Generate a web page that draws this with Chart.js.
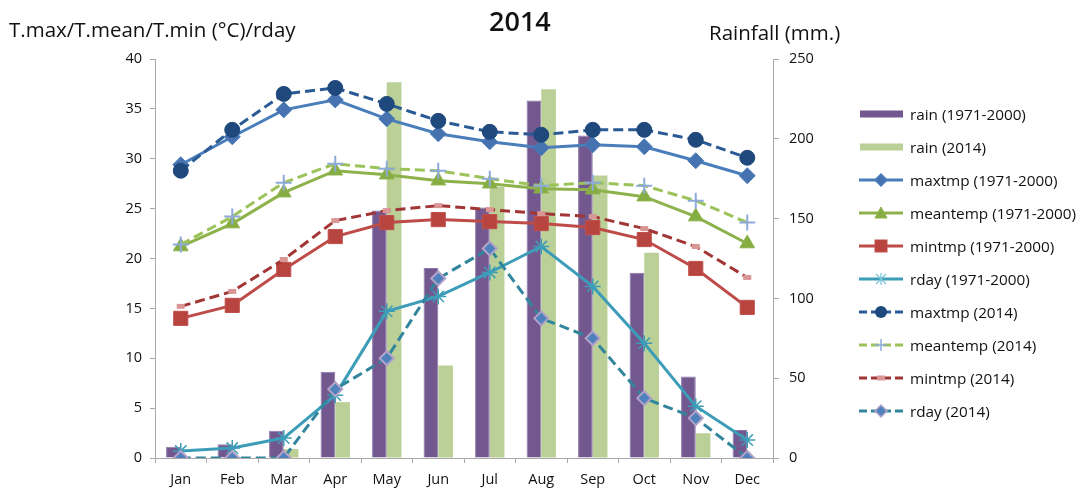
<!DOCTYPE html>
<html>
<head>
    <title>2014 climate chart</title>
    <script src="https://cdn.jsdelivr.net/npm/chart.js"></script>
    <style>
        body {
            margin: 0;
            background: #ffffff;
            font-family: "Open Sans", "Noto Sans", Arial, sans-serif;
        }
        .wrap {
            position: relative;
            width: 1080px;
            height: 489px;
        }
        .label {
            position: absolute;
            color: #111;
            white-space: nowrap;
        }
        .legend {
            position: absolute;
            left: 858px;
            top: 97px;
        }
        .legend-item {
            display: flex;
            align-items: center;
            height: 33px;
            font-size: 15.3px;
            color: #111;
        }
        .legend-item svg {
            margin-right: 6px;
        }
    </style>
</head>
<body>
<div class="wrap">
    <canvas id="climateChart" width="1080" height="489"></canvas>
    <div class="label" style="left:9px; top:15px; font-size:20.5px;">T.max/T.mean/T.min (°C)/rday</div>
    <div class="label" style="left:489px; top:2px; font-size:27px; font-weight:600;">2014</div>
    <div class="label" style="left:709px; top:18px; font-size:20.5px;">Rainfall (mm.)</div>
    <div class="legend" id="legend"></div>
</div>

<script>
    const months = ['Jan', 'Feb', 'Mar', 'Apr', 'May', 'Jun', 'Jul', 'Aug', 'Sep', 'Oct', 'Nov', 'Dec'];

    // rainfall (mm), right axis
    const rain1971 = [7, 8.6, 17, 54, 155, 119, 157, 224, 202, 116, 51, 17.5];
    const rain2014 = [0, 0, 5.6, 35, 235.5, 58, 170, 231, 177, 128.6, 15.5, 0];

    // temperatures (°C) and rain days, left axis
    const maxtmp1971 = [29.4, 32.2, 34.9, 35.9, 34.0, 32.5, 31.7, 31.1, 31.4, 31.2, 29.8, 28.3];
    const meantemp1971 = [21.2, 23.5, 26.6, 28.8, 28.4, 27.8, 27.5, 27.0, 26.9, 26.2, 24.2, 21.5];
    const mintmp1971 = [14.0, 15.3, 18.9, 22.2, 23.6, 23.9, 23.7, 23.5, 23.1, 21.9, 19.0, 15.1];
    const rday1971 = [0.7, 1.0, 2.0, 6.3, 14.7, 16.2, 18.6, 21.2, 17.2, 11.5, 5.2, 1.8];
    const maxtmp2014 = [28.8, 32.9, 36.5, 37.1, 35.5, 33.8, 32.7, 32.4, 32.9, 32.9, 31.9, 30.1];
    const meantemp2014 = [21.4, 24.2, 27.6, 29.5, 29.0, 28.8, 28.0, 27.3, 27.6, 27.3, 25.8, 23.6];
    const mintmp2014 = [15.2, 16.7, 19.9, 23.8, 24.8, 25.3, 24.9, 24.5, 24.2, 23.0, 21.2, 18.1];
    const rday2014 = [0, 0, 0, 6.9, 10.0, 18.0, 21.0, 14.0, 12.0, 6.0, 4.0, 0];

    const dash = [10, 5];

    function lineSet(label, data, color, style, opts) {
        return Object.assign({
            type: 'line',
            label: label,
            data: data,
            yAxisID: 'y',
            borderColor: color,
            borderWidth: 3,
            backgroundColor: color,
            pointBackgroundColor: color,
            pointBorderColor: color,
            pointBorderWidth: 1,
            pointStyle: style,
            pointRadius: 7,
            tension: 0,
            fill: false
        }, opts || {});
    }

    const datasets = [
        // 2014 lines on top
        lineSet('rday (2014)', rday2014, '#31859c', 'rectRot', {
            borderDash: dash, pointBackgroundColor: '#4f81bd', pointBorderColor: '#b3a2c7',
            pointBorderWidth: 2, pointRadius: 7, order: 1
        }),
        lineSet('mintmp (2014)', mintmp2014, '#a23535', 'line', {
            borderDash: dash, pointBorderColor: '#d99694', pointBorderWidth: 5, pointRadius: 4, order: 1
        }),
        lineSet('meantemp (2014)', meantemp2014, '#9cc35a', 'cross', {
            borderDash: dash, pointBorderColor: '#8eaadb', pointBorderWidth: 2, pointRadius: 8, order: 1
        }),
        lineSet('maxtmp (2014)', maxtmp2014, '#2a5a94', 'circle', {
            borderDash: dash, pointBackgroundColor: '#1f497d', pointBorderColor: '#1f497d', pointRadius: 7.5, order: 1
        }),
        // 1971-2000 lines
        lineSet('rday (1971-2000)', rday1971, '#3d9db8', 'star', {
            pointBorderWidth: 1.5, pointRadius: 8, order: 5
        }),
        lineSet('mintmp (1971-2000)', mintmp1971, '#be4b48', 'rect', {
            pointBackgroundColor: '#b7443f', pointBorderColor: '#c0504d', pointRadius: 10, order: 5
        }),
        lineSet('meantemp (1971-2000)', meantemp1971, '#8db24b', 'triangle', {
            pointBackgroundColor: '#86ad42', pointRadius: 8.5, order: 5
        }),
        lineSet('maxtmp (1971-2000)', maxtmp1971, '#4a7ebb', 'rectRot', {
            pointBackgroundColor: '#4673b0', pointRadius: 8, order: 5
        }),
        // rain bars behind everything, purple left, green right
        {
            type: 'bar',
            label: 'rain (1971-2000)',
            data: rain1971,
            yAxisID: 'y1',
            backgroundColor: '#73578f',
            borderColor: '#8a75a8',
            borderWidth: 1,
            barPercentage: 1,
            categoryPercentage: 0.57,
            order: 10
        },
        {
            type: 'bar',
            label: 'rain (2014)',
            data: rain2014,
            yAxisID: 'y1',
            backgroundColor: '#bad096',
            borderWidth: 0,
            barPercentage: 1,
            categoryPercentage: 0.57,
            order: 10
        }
    ];

    const axisColor = '#a8a8a8';
    const tickFont = { family: '"Open Sans", "Noto Sans", Arial, sans-serif', size: 14.5 };

    new Chart(document.getElementById('climateChart'), {
        type: 'bar',
        data: { labels: months, datasets: datasets },
        options: {
            responsive: false,
            animation: false,
            devicePixelRatio: 1,
            layout: { padding: { top: 59, left: 0, right: 0, bottom: 0 } },
            plugins: {
                legend: { display: false },
                title: { display: false },
                tooltip: { enabled: false }
            },
            scales: {
                x: {
                    offset: true,
                    grid: {
                        offset: true, drawOnChartArea: false, drawTicks: true,
                        tickLength: 5, color: axisColor
                    },
                    border: { display: true, color: axisColor, width: 1 },
                    ticks: { color: '#111', font: tickFont, padding: 8 },
                    afterFit: function(scale) { scale.height = 31; }
                },
                y: {
                    position: 'left',
                    min: 0,
                    max: 40,
                    ticks: { stepSize: 5, color: '#111', font: tickFont, padding: 8 },
                    grid: { drawOnChartArea: false, drawTicks: true, tickLength: 5, color: axisColor },
                    border: { display: true, color: axisColor, width: 1 },
                    afterFit: function(scale) { scale.width = 155; }
                },
                y1: {
                    position: 'right',
                    min: 0,
                    max: 250,
                    ticks: { stepSize: 50, color: '#111', font: tickFont, padding: 10 },
                    grid: { drawOnChartArea: false, drawTicks: true, tickLength: 6, color: axisColor },
                    border: { display: true, color: axisColor, width: 1 },
                    afterFit: function(scale) { scale.width = 307; }
                }
            }
        }
    });

    // legend built in html, order as in the reference
    const legendItems = [
        { label: 'rain (1971-2000)', kind: 'bar', color: '#73578f' },
        { label: 'rain (2014)', kind: 'bar', color: '#bad096' },
        { label: 'maxtmp (1971-2000)', line: '#4a7ebb', marker: 'diamond', fill: '#4673b0', stroke: '#4a7ebb' },
        { label: 'meantemp (1971-2000)', line: '#8db24b', marker: 'triangle', fill: '#86ad42', stroke: '#8db24b' },
        { label: 'mintmp (1971-2000)', line: '#be4b48', marker: 'square', fill: '#b7443f', stroke: '#c0504d' },
        { label: 'rday (1971-2000)', line: '#3d9db8', marker: 'star', stroke: '#7cc6dc' },
        { label: 'maxtmp (2014)', line: '#2a5a94', dashed: true, marker: 'circle', fill: '#1f497d', stroke: '#1f497d' },
        { label: 'meantemp (2014)', line: '#9cc35a', dashed: true, marker: 'plus', stroke: '#8eaadb' },
        { label: 'mintmp (2014)', line: '#a23535', dashed: true, marker: 'dash', stroke: '#d99694' },
        { label: 'rday (2014)', line: '#31859c', dashed: true, marker: 'diamond', fill: '#4f81bd', stroke: '#b3a2c7' }
    ];

    function markerSvg(item) {
        const cx = 23, cy = 8;
        switch (item.marker) {
            case 'diamond':
                return `<polygon points="${cx},${cy-6} ${cx+6},${cy} ${cx},${cy+6} ${cx-6},${cy}" fill="${item.fill}" stroke="${item.stroke}" stroke-width="1.5"/>`;
            case 'triangle':
                return `<polygon points="${cx},${cy-6} ${cx+6},${cy+5} ${cx-6},${cy+5}" fill="${item.fill}" stroke="${item.stroke}" stroke-width="1"/>`;
            case 'square':
                return `<rect x="${cx-6}" y="${cy-6}" width="12" height="12" fill="${item.fill}" stroke="${item.stroke}"/>`;
            case 'circle':
                return `<circle cx="${cx}" cy="${cy}" r="6" fill="${item.fill}"/>`;
            case 'star':
                return `<path d="M${cx-5} ${cy-5}L${cx+5} ${cy+5}M${cx+5} ${cy-5}L${cx-5} ${cy+5}M${cx} ${cy-6}L${cx} ${cy+6}" stroke="${item.stroke}" stroke-width="1.3"/>`;
            case 'plus':
                return `<path d="M${cx-6} ${cy}L${cx+6} ${cy}M${cx} ${cy-6}L${cx} ${cy+6}" stroke="${item.stroke}" stroke-width="1.5"/>`;
            case 'dash':
                return `<rect x="${cx-4}" y="${cy-2.5}" width="8" height="5" fill="${item.stroke}"/>`;
        }
        return '';
    }

    const legendEl = document.getElementById('legend');
    legendItems.forEach(item => {
        let svg;
        if (item.kind === 'bar') {
            svg = `<svg width="46" height="16"><rect x="2" y="4.5" width="43" height="7" fill="${item.color}"/></svg>`;
        } else {
            const da = item.dashed ? 'stroke-dasharray="8 4"' : '';
            svg = `<svg width="46" height="16"><line x1="1" y1="8" x2="45" y2="8" stroke="${item.line}" stroke-width="3" ${da}/>${markerSvg(item)}</svg>`;
        }
        const row = document.createElement('div');
        row.className = 'legend-item';
        row.innerHTML = svg + '<span>' + item.label + '</span>';
        legendEl.appendChild(row);
    });
</script>
</body>
</html>
